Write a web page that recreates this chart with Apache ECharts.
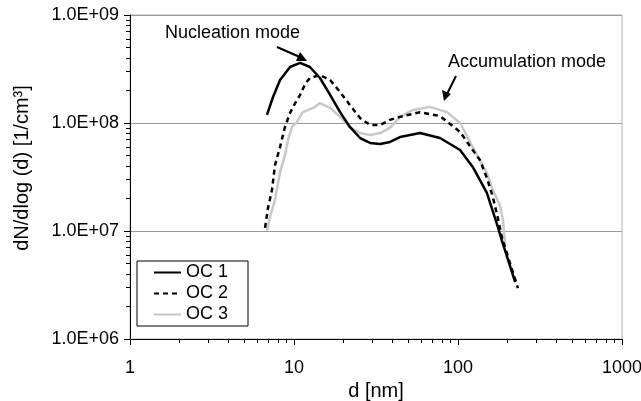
<!DOCTYPE html>
<html>
<head>
<meta charset="utf-8">
<script src="https://cdn.jsdelivr.net/npm/echarts@6/dist/echarts.min.js"></script>
<style>
  html, body { margin: 0; padding: 0; background: #fff; }
  #chart { width: 641px; height: 401px; }
</style>
</head>
<body>
<div id="chart"></div>
<script>
// particle size distributions
var oc1_d = [6.84, 7.45, 8.22, 9.46, 10.9, 12.5, 14.4, 16.6, 19.1, 21.9, 25.3, 29.1, 33.5, 38.5, 44.3, 58.7, 77.7, 103, 123, 150, 175, 185, 202, 223];
var oc1_n = [1.19e8, 1.74e8, 2.50e8, 3.30e8, 3.6e8, 3.30e8, 2.61e8, 1.82e8, 1.26e8, 9.19e7, 7.26e7, 6.53e7, 6.39e7, 6.67e7, 7.41e7, 8.07e7, 7.26e7, 5.62e7, 3.92e7, 2.25e7, 1.09e7, 8.2e6, 5.4e6, 3.37e6];

var oc2_d = [6.66, 6.94, 7.34, 7.66, 8.22, 8.81, 9.46, 10.1, 10.9, 11.7, 12.5, 14.4, 16.6, 19.1, 21.9, 25.3, 29.1, 33.5, 38.5, 44.3, 58.7, 77.7, 103, 123, 136, 150, 163, 175, 185, 202, 232];
var oc2_n = [1.07e7, 1.63e7, 2.40e7, 4.08e7, 6.0e7, 9.19e7, 1.24e8, 1.50e8, 1.82e8, 2.30e8, 2.61e8, 2.78e8, 2.50e8, 1.94e8, 1.47e8, 1.11e8, 9.58e7, 9.58e7, 1.07e8, 1.14e8, 1.26e8, 1.16e8, 8.26e7, 5.62e7, 4.54e7, 3.10e7, 2.07e7, 1.32e7, 8.8e6, 5.74e6, 2.96e6];

var oc3_d = [6.84, 7.14, 7.66, 8.22, 8.81, 9.19, 9.72, 10.4, 11.3, 13.1, 14.4, 16.6, 19.1, 21.9, 25.3, 29.1, 33.5, 38.5, 44.3, 53.2, 67.5, 85.7, 103, 123, 150, 163, 180, 188, 194];
var oc3_n = [1.0e7, 1.35e7, 1.94e7, 3.52e7, 5.05e7, 6.96e7, 9.19e7, 1.02e8, 1.26e8, 1.38e8, 1.53e8, 1.38e8, 1.14e8, 9.19e7, 8.07e7, 7.74e7, 8.07e7, 9.0e7, 1.14e8, 1.32e8, 1.41e8, 1.26e8, 1.0e8, 6.0e7, 3.44e7, 2.40e7, 1.74e7, 1.26e7, 7.42e6];

var seriesNames = ['OC 1', 'OC 2', 'OC 3'];

function pairs(xs, ys) {
    var out = [];
    for (var i = 0; i < xs.length; i++) out.push([xs[i], ys[i]]);
    return out;
}

var font = 'Liberation Sans, Arial, sans-serif';

var chartDom = document.getElementById('chart');
var myChart = echarts.init(chartDom);

var option = {
    animation: false,
    textStyle: { fontFamily: font },
    grid: {
        left: 130, right: 19, top: 15, bottom: 62,
        outerBoundsMode: 'none', containLabel: false,
        show: true, borderColor: '#b0b0b0', borderWidth: 1
    },
    legend: {
        orient: 'vertical',
        left: 137, top: 261,
        data: seriesNames,
        itemWidth: 27, itemHeight: 12, itemGap: 2,
        padding: [2, 20, 2, 16],
        borderColor: '#000', borderWidth: 1,
        backgroundColor: '#fff',
        itemStyle: { opacity: 0 },
        textStyle: { fontSize: 18, lineHeight: 19, color: '#000', fontFamily: font }
    },
    xAxis: {
        type: 'log', min: 1, max: 1000, logBase: 10,
        name: 'd [nm]', nameLocation: 'middle', nameGap: 40,
        nameTextStyle: { fontSize: 20, color: '#000' },
        axisLine: { lineStyle: { color: '#000', width: 1 } },
        axisTick: { show: true, length: 6, lineStyle: { color: '#000' } },
        minorTick: { show: true, splitNumber: 9, length: 4, lineStyle: { color: '#000' } },
        axisLabel: { fontSize: 18, color: '#000', margin: 20, formatter: function (v) { return String(v); } },
        splitLine: { show: false }
    },
    yAxis: {
        type: 'log', min: 1e6, max: 1e9, logBase: 10,
        name: 'dN/dlog (d) [1/cm³]', nameLocation: 'middle', nameGap: 98,
        nameTextStyle: { fontSize: 20, color: '#000', padding: [0, 0, 0, 18] },
        axisLine: { show: true, lineStyle: { color: '#000', width: 1 } },
        axisTick: { show: true, length: 6, lineStyle: { color: '#000' } },
        minorTick: { show: true, splitNumber: 9, length: 4, lineStyle: { color: '#000' } },
        axisLabel: {
            fontSize: 18, color: '#000', margin: 11,
            formatter: function (v) {
                var e = Math.round(Math.log10(v));
                return '1.0E+' + (e < 10 ? '0' + e : e);
            }
        },
        splitLine: { show: true, lineStyle: { color: '#999', width: 1 } }
    },
    series: [
        {
            name: 'OC 3', type: 'line', symbol: 'none', z: 1,
            data: pairs(oc3_d, oc3_n),
            lineStyle: { color: '#c8c8c8', width: 2.5 },
            itemStyle: { color: '#c8c8c8' }
        },
        {
            name: 'OC 1', type: 'line', symbol: 'none', z: 3,
            data: pairs(oc1_d, oc1_n),
            lineStyle: { color: '#000', width: 2.5 },
            itemStyle: { color: '#000' }
        },
        {
            name: 'OC 2', type: 'line', symbol: 'none', z: 2,
            data: pairs(oc2_d, oc2_n),
            lineStyle: { color: '#000', width: 2.5, type: [5, 4] },
            itemStyle: { color: '#000' }
        }
    ],
    graphic: [
        { type: 'text', left: 165, top: 24, style: { text: 'Nucleation mode', font: '18px ' + font, fill: '#000' } },
        { type: 'line', shape: { x1: 277, y1: 47, x2: 302, y2: 58 }, style: { stroke: '#000', lineWidth: 2 } },
        { type: 'polygon', shape: { points: [[307, 61], [296, 61], [300, 52]] }, style: { fill: '#000' } },
        { type: 'text', left: 448, top: 53, style: { text: 'Accumulation mode', font: '18px ' + font, fill: '#000' } },
        { type: 'line', shape: { x1: 456, y1: 76, x2: 447, y2: 94 }, style: { stroke: '#000', lineWidth: 2 } },
        { type: 'polygon', shape: { points: [[444, 101], [442, 90], [451, 94]] }, style: { fill: '#000' } }
    ]
};

if (option && typeof option === 'object') {
    myChart.setOption(option);
}
</script>
</body>
</html>
